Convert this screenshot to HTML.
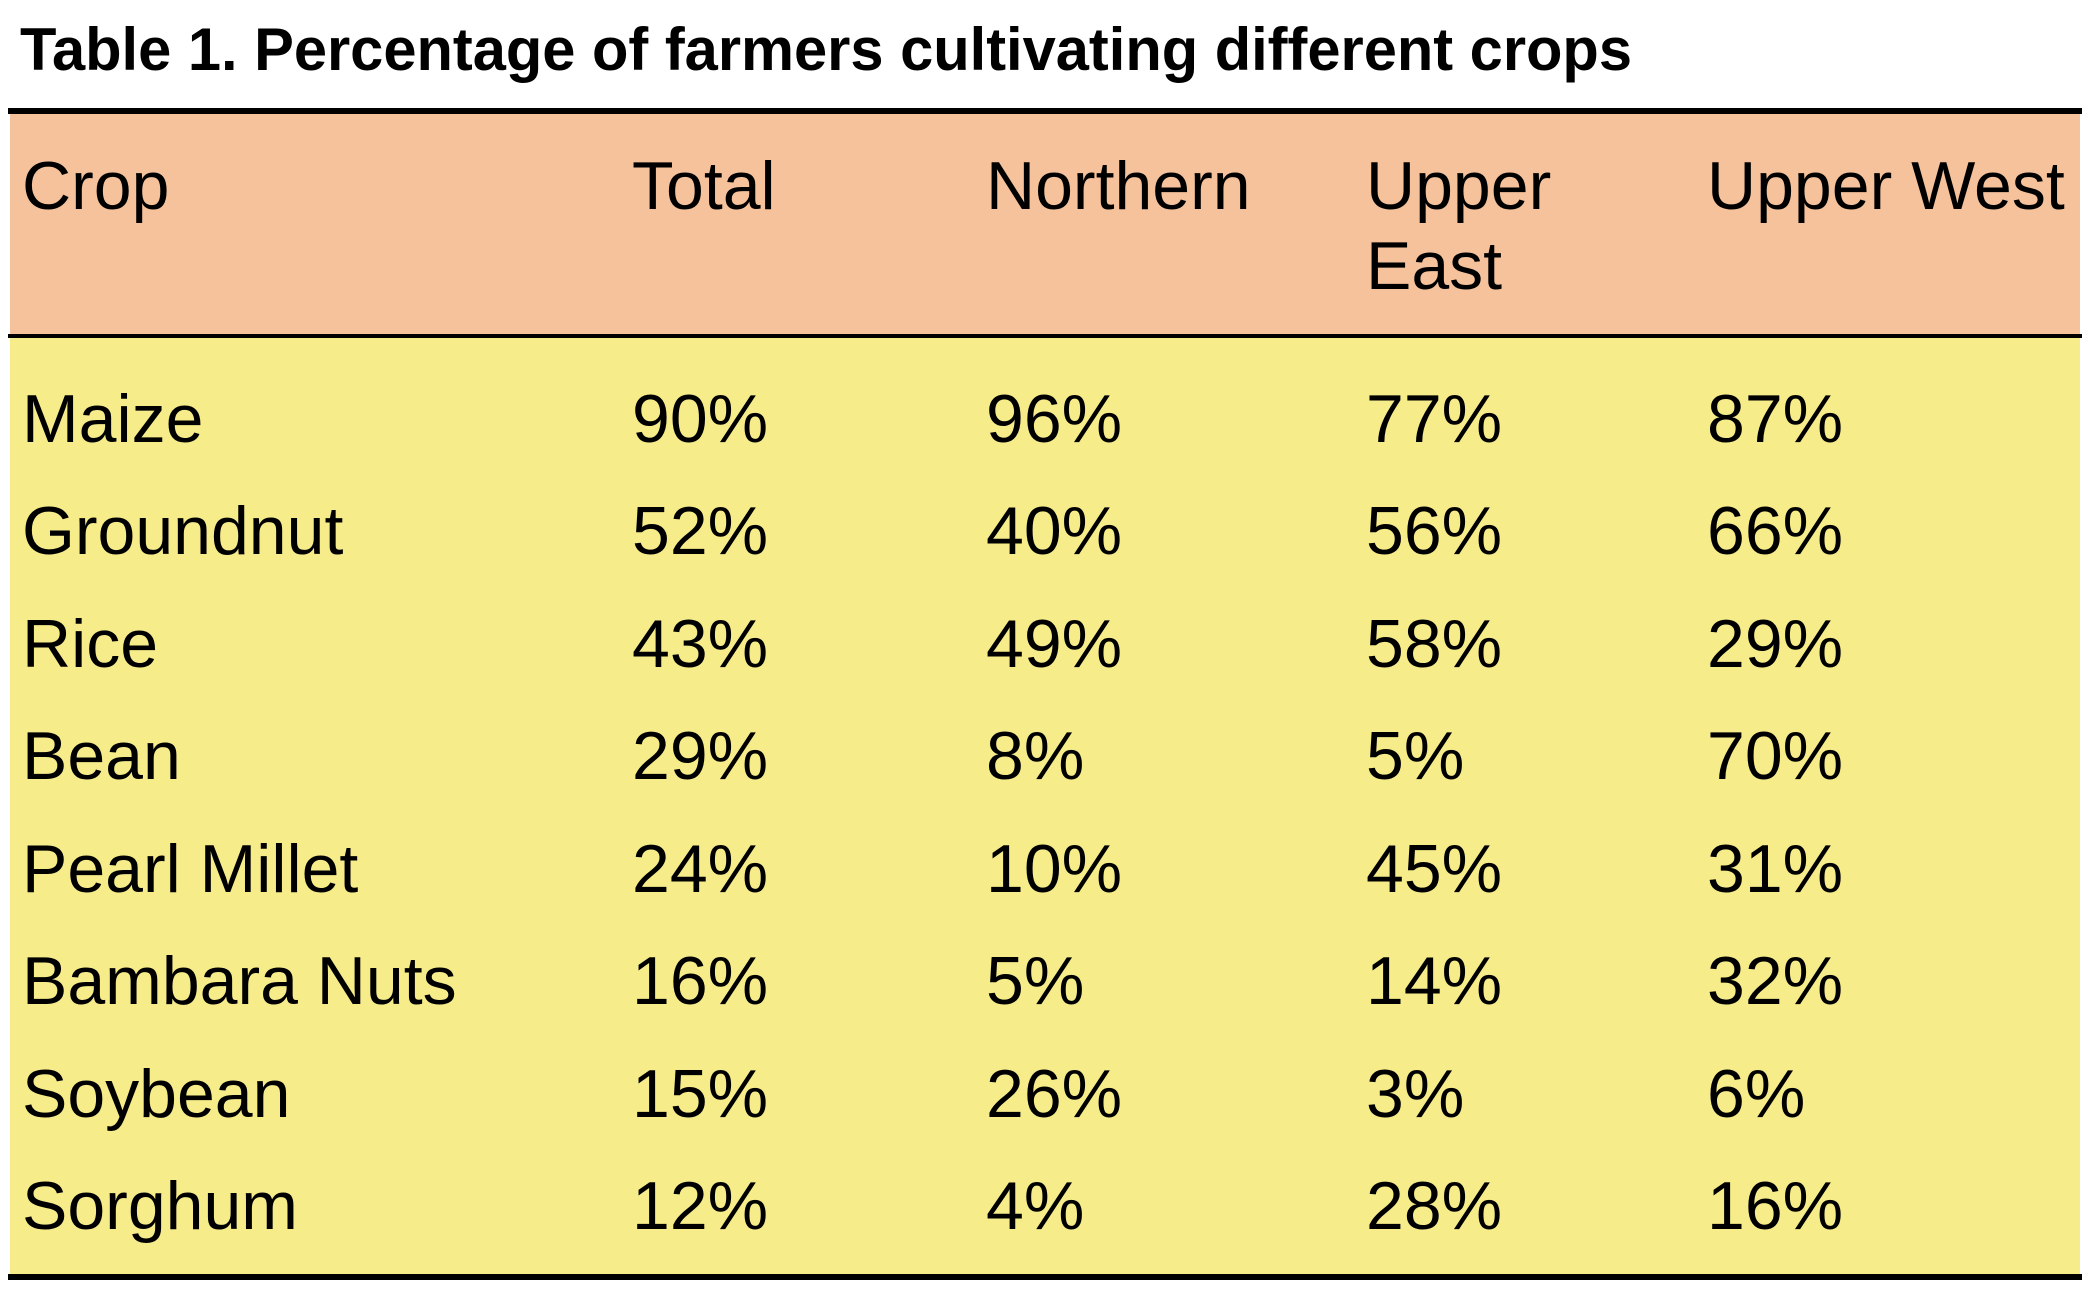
<!DOCTYPE html>
<html><head><meta charset="utf-8"><style>html,body{margin:0;padding:0;background:#fff}svg{display:block}</style></head>
<body>
<svg width="2091" height="1312" xmlns="http://www.w3.org/2000/svg" font-family="'Liberation Sans', Arial, sans-serif">
<rect x="0" y="0" width="2091" height="1312" fill="#fff"/>
<text x="20" y="70" font-size="60" font-weight="bold" textLength="1612" lengthAdjust="spacingAndGlyphs">Table 1. Percentage of farmers cultivating different crops</text>
<rect x="10" y="113" width="2070" height="222" fill="#F5C29B"/>
<rect x="10" y="337" width="2070" height="940" fill="#F7EC8A"/>
<rect x="8" y="108" width="2074" height="6" fill="#000"/>
<rect x="8" y="334" width="2074" height="4" fill="#000"/>
<rect x="8" y="1274" width="2074" height="6" fill="#000"/>
<g font-size="68" fill="#000">
<text x="22" y="209">Crop</text>
<text x="632" y="209">Total</text>
<text x="986" y="209">Northern</text>
<text x="1366" y="209">Upper</text>
<text x="1366" y="289">East</text>
<text x="1707" y="209">Upper West</text>
</g>
<g font-size="68" fill="#000">
<g transform="translate(0,442)"><text x="22">Maize</text><text x="632">90%</text><text x="986">96%</text><text x="1366">77%</text><text x="1707">87%</text></g>
<g transform="translate(0,554)"><text x="22">Groundnut</text><text x="632">52%</text><text x="986">40%</text><text x="1366">56%</text><text x="1707">66%</text></g>
<g transform="translate(0,667)"><text x="22">Rice</text><text x="632">43%</text><text x="986">49%</text><text x="1366">58%</text><text x="1707">29%</text></g>
<g transform="translate(0,779)"><text x="22">Bean</text><text x="632">29%</text><text x="986">8%</text><text x="1366">5%</text><text x="1707">70%</text></g>
<g transform="translate(0,892)"><text x="22">Pearl Millet</text><text x="632">24%</text><text x="986">10%</text><text x="1366">45%</text><text x="1707">31%</text></g>
<g transform="translate(0,1004)"><text x="22">Bambara Nuts</text><text x="632">16%</text><text x="986">5%</text><text x="1366">14%</text><text x="1707">32%</text></g>
<g transform="translate(0,1117)"><text x="22">Soybean</text><text x="632">15%</text><text x="986">26%</text><text x="1366">3%</text><text x="1707">6%</text></g>
<g transform="translate(0,1229)"><text x="22">Sorghum</text><text x="632">12%</text><text x="986">4%</text><text x="1366">28%</text><text x="1707">16%</text></g>
</g>
</svg>
</body></html>
